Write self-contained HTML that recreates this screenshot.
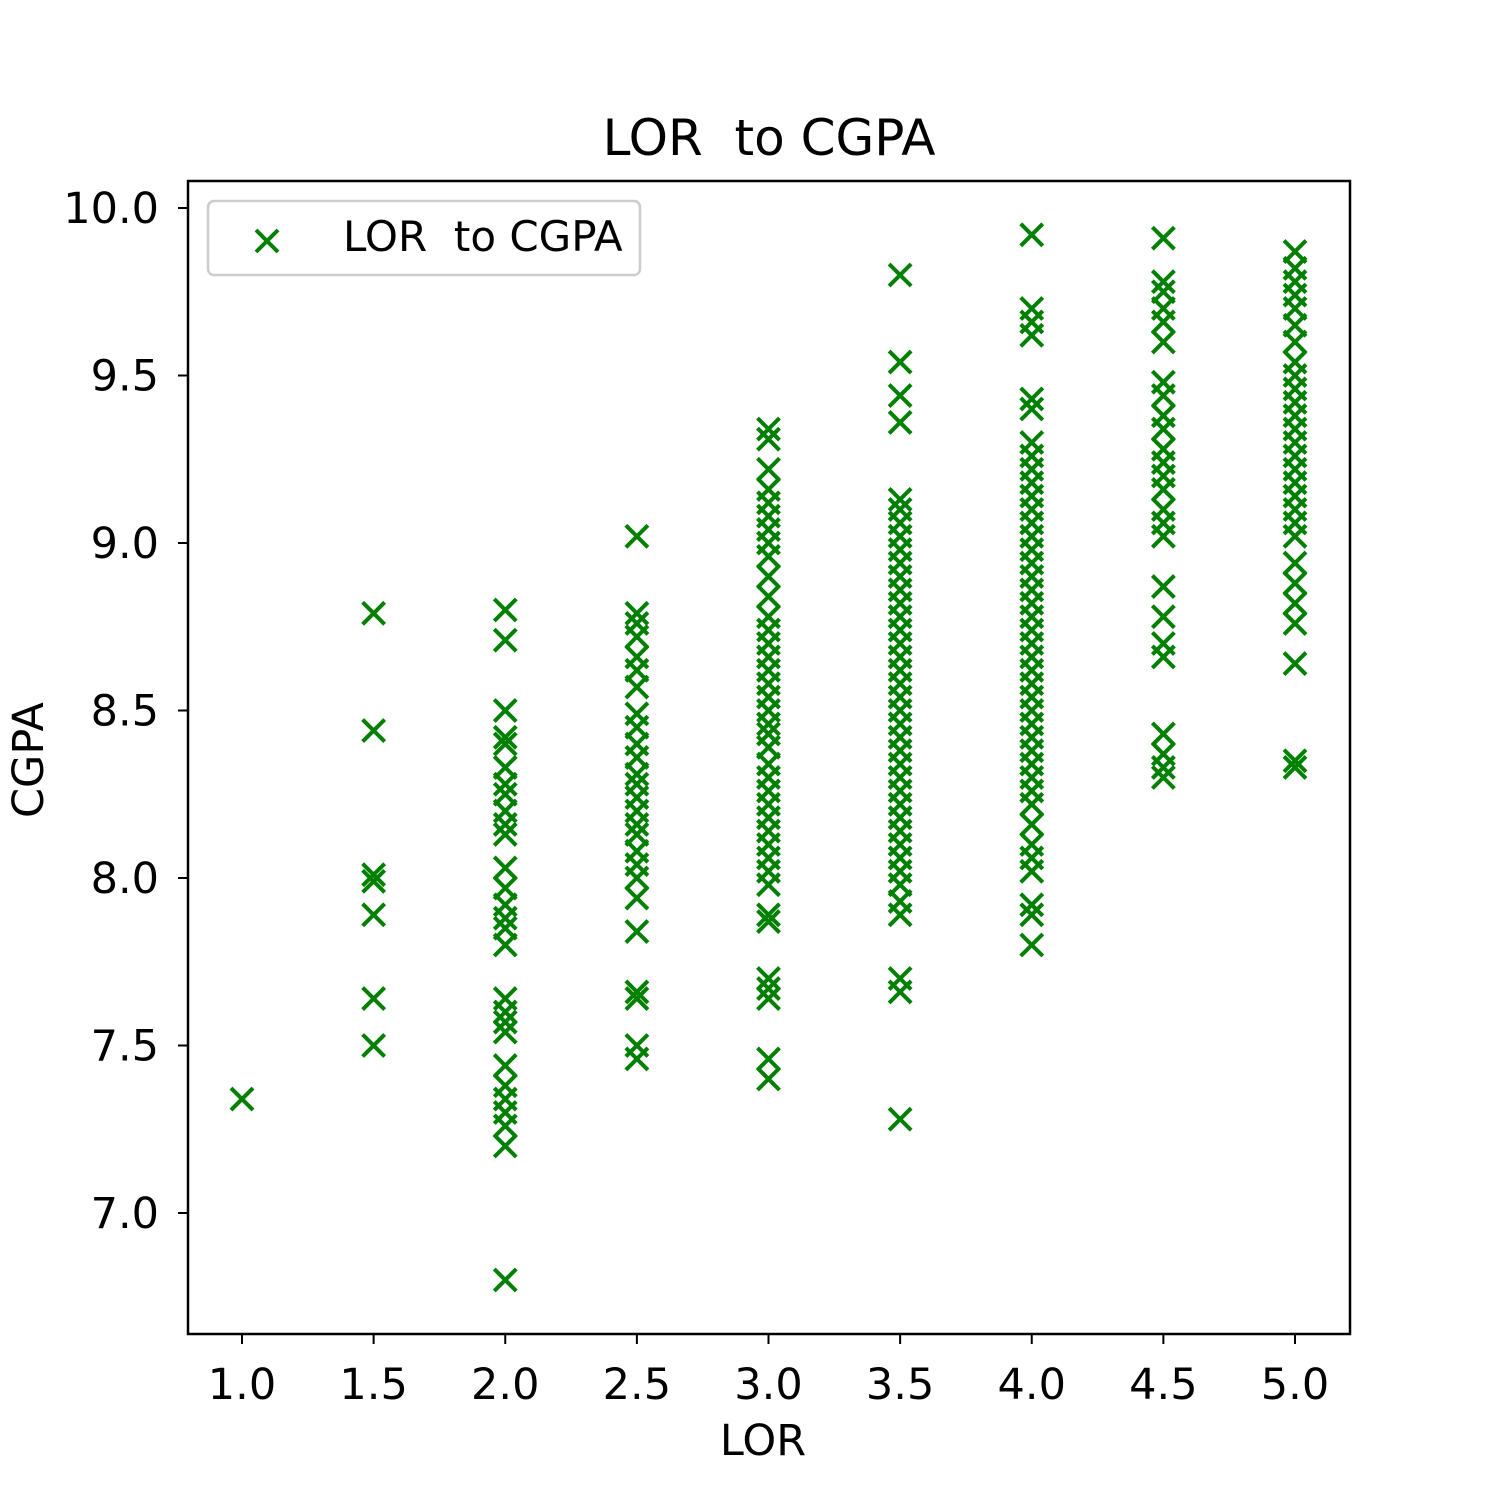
<!DOCTYPE html>
<html><head><meta charset="utf-8"><style>
html,body{margin:0;padding:0;background:#fff;}
svg text{font-family:"DejaVu Sans","Liberation Sans",sans-serif;fill:#000;}
.pre{white-space:pre;}
</style></head><body>
<svg id="chart" width="1500" height="1500" viewBox="0 0 1500 1500" xmlns="http://www.w3.org/2000/svg" xml:space="preserve">
<rect width="1500" height="1500" fill="#fff"/>
<text class="pre" x="769" y="155" font-size="50" text-anchor="middle">LOR  to CGPA</text>
<g id="ticks"></g>
<g id="marks"></g>
<rect x="188" y="181" width="1162" height="1153" fill="none" stroke="#000" stroke-width="2.5"/>
<g>
<rect x="208" y="201" width="432" height="74" rx="6" fill="#fff" fill-opacity="0.8" stroke="#ccc" stroke-width="2.5"/>
<path d="M256 230 L278 252 M256 252 L278 230" stroke="#008000" stroke-width="4"/>
<text class="pre" x="343" y="251" font-size="42">LOR  to CGPA</text>
</g>
<text x="763" y="1455" font-size="43" text-anchor="middle">LOR</text>
<text x="0" y="0" font-size="43" text-anchor="middle" transform="translate(43,760) rotate(-90)">CGPA</text>
</svg>
<script>
const xTicks = [1.0, 1.5, 2.0, 2.5, 3.0, 3.5, 4.0, 4.5, 5.0];
const yTicks = [7.0, 7.5, 8.0, 8.5, 9.0, 9.5, 10.0];
const lorLevels = [1.0, 1.5, 2.0, 2.5, 3.0, 3.5, 4.0, 4.5, 5.0];
const cgpaLor10 = [7.34];
const cgpaLor15 = [8.79, 8.44, 8.01, 7.99, 7.89, 7.64, 7.50];
const cgpaLor20 = [8.80, 8.71, 8.50, 8.42, 8.40, 8.33, 8.28, 8.25, 8.20, 8.16, 8.13, 8.03, 7.97, 7.92, 7.88, 7.85, 7.80, 7.64, 7.60, 7.57, 7.54, 7.44, 7.38, 7.34, 7.30, 7.26, 7.20, 6.80];
const cgpaLor25 = [9.02, 8.79, 8.76, 8.72, 8.66, 8.62, 8.57, 8.49, 8.45, 8.40, 8.36, 8.31, 8.28, 8.24, 8.20, 8.16, 8.13, 8.08, 8.04, 8.00, 7.94, 7.84, 7.66, 7.64, 7.50, 7.46];
const cgpaLor30 = [9.34, 9.31, 9.22, 9.16, 9.12, 9.08, 9.04, 9.00, 8.96, 8.90, 8.84, 8.78, 8.74, 8.70, 8.66, 8.62, 8.58, 8.54, 8.50, 8.46, 8.43, 8.39, 8.34, 8.30, 8.26, 8.22, 8.18, 8.14, 8.10, 8.06, 8.02, 7.98, 7.89, 7.87, 7.70, 7.67, 7.64, 7.46, 7.40];
const cgpaLor35 = [9.80, 9.54, 9.44, 9.36, 9.13, 9.10, 9.06, 9.02, 8.98, 8.94, 8.90, 8.86, 8.82, 8.78, 8.74, 8.70, 8.66, 8.62, 8.58, 8.54, 8.50, 8.46, 8.42, 8.38, 8.34, 8.30, 8.26, 8.22, 8.18, 8.14, 8.10, 8.06, 8.02, 7.98, 7.93, 7.89, 7.70, 7.66, 7.28];
const cgpaLor40 = [9.92, 9.70, 9.66, 9.62, 9.43, 9.40, 9.30, 9.26, 9.22, 9.18, 9.14, 9.10, 9.06, 9.02, 8.98, 8.94, 8.90, 8.86, 8.82, 8.78, 8.74, 8.70, 8.66, 8.62, 8.58, 8.54, 8.50, 8.46, 8.42, 8.38, 8.34, 8.30, 8.26, 8.22, 8.16, 8.10, 8.06, 8.02, 7.92, 7.89, 7.80];
const cgpaLor45 = [9.91, 9.78, 9.75, 9.70, 9.66, 9.60, 9.48, 9.44, 9.38, 9.34, 9.28, 9.24, 9.20, 9.16, 9.10, 9.06, 9.02, 8.87, 8.78, 8.70, 8.66, 8.43, 8.37, 8.33, 8.30];
const cgpaLor50 = [9.87, 9.82, 9.78, 9.74, 9.70, 9.65, 9.60, 9.54, 9.50, 9.46, 9.42, 9.38, 9.34, 9.30, 9.26, 9.22, 9.18, 9.14, 9.10, 9.06, 9.02, 8.94, 8.88, 8.82, 8.76, 8.64, 8.35, 8.33];
const cgpaGroups = [cgpaLor10, cgpaLor15, cgpaLor20, cgpaLor25, cgpaLor30, cgpaLor35, cgpaLor40, cgpaLor45, cgpaLor50];

const NS = "http://www.w3.org/2000/svg";
function xScale(v){ return 242 + (v - 1.0) * 263.25; }
function yScale(v){ return 1213 - (v - 7.0) * 335; }

const tg = document.getElementById('ticks');
xTicks.forEach(t => {
  const x = xScale(t);
  const l = document.createElementNS(NS, 'line');
  l.setAttribute('x1', x); l.setAttribute('x2', x); l.setAttribute('y1', 1334); l.setAttribute('y2', 1344);
  l.setAttribute('stroke', '#000'); l.setAttribute('stroke-width', 2);
  
  
  tg.appendChild(l);
  const tx = document.createElementNS(NS, 'text');
  tx.setAttribute('x', x); tx.setAttribute('y', 1399); tx.setAttribute('font-size', 43); tx.setAttribute('text-anchor', 'middle');
  tx.textContent = t.toFixed(1);
  
  
  tg.appendChild(tx);
});
yTicks.forEach(t => {
  const y = yScale(t);
  const l = document.createElementNS(NS, 'line');
  l.setAttribute('x1', 178); l.setAttribute('x2', 188); l.setAttribute('y1', y); l.setAttribute('y2', y);
  l.setAttribute('stroke', '#000'); l.setAttribute('stroke-width', 2);
  
  
  tg.appendChild(l);
  const tx = document.createElementNS(NS, 'text');
  tx.setAttribute('x', 159); tx.setAttribute('y', y + 15); tx.setAttribute('font-size', 43); tx.setAttribute('text-anchor', 'end');
  tx.textContent = t.toFixed(1);
  
  
  tg.appendChild(tx);
});
const mg = document.getElementById('marks');
lorLevels.forEach((lor, i) => {
  cgpaGroups[i].forEach(c => {
    const x = xScale(lor), y = yScale(c), r = 11;
    const p = document.createElementNS(NS, 'path');
    p.setAttribute('d', `M${x-r} ${y-r} L${x+r} ${y+r} M${x-r} ${y+r} L${x+r} ${y-r}`);
    p.setAttribute('stroke', '#008000'); p.setAttribute('stroke-width', 4);
    
    
    mg.appendChild(p);
  });
});
</script>
</body></html>
